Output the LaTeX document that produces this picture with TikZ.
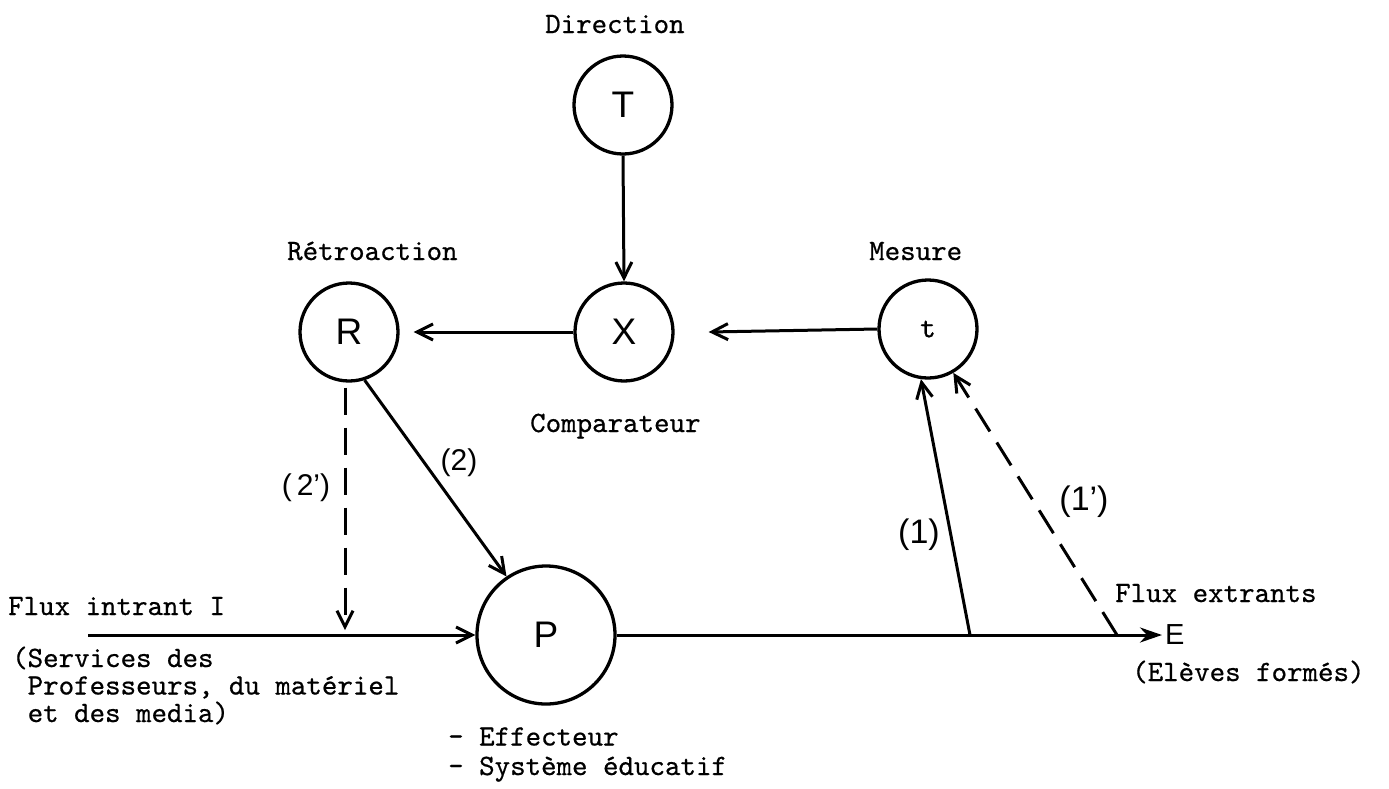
\documentclass[tikz,border=0pt]{standalone}
\usepackage{fontspec}
\setmonofont{lmmono10-regular}[Extension=.otf,FakeBold=0.6]
\newfontfamily\labfont{Liberation Sans}
\usetikzlibrary{arrows.meta}
\begin{document}
\begin{tikzpicture}[x=1pt,y=-1pt,
  circ/.style={circle,draw,line width=3.3pt,inner sep=0pt,minimum size=98pt,
    font=\labfont\fontsize{37}{37}\selectfont},
  ttx/.style={font=\fontsize{29.5}{28}\selectfont\ttfamily,inner sep=0pt,anchor=base west,
    text height=19pt,text depth=5pt},
  ttm/.style={font=\fontsize{29.5}{27.5}\selectfont\ttfamily,inner sep=0pt,anchor=base west,
    align=left},
  lab/.style={font=\labfont\fontsize{30}{30}\selectfont,inner sep=0pt},
  biglab/.style={font=\labfont\fontsize{34}{34}\selectfont,inner sep=0pt},
  barb/.tip={Straight Barb[length=16pt,width=16pt,line width=3pt]},
  conn/.style={line width=3pt,-barb},
  dconn/.style={line width=3pt,-barb,dash pattern=on 27pt off 13pt},
]
\useasboundingbox (0,0) rectangle (1389,788);

% circles
\node[circ] (T) at (623,105) {T};
\node[circ] (X) at (624,332) {X};
\node[circ] (R) at (349,332) {R};
\node[circ,font=\fontsize{30}{30}\selectfont\ttfamily] (t) at (928,329) {t};
\node[circ,minimum size=138pt] (P) at (546,635) {P};
\node[font=\labfont\fontsize{29}{29}\selectfont,inner sep=0pt,anchor=west] (E) at (1165,635) {E};

% texts
\node[ttx] (dir) at (545,33) {Direction};
\node[ttx] (retro) at (287,260) {Rétroaction};
\node[ttx] (mes) at (869,260) {Mesure};
\node[ttx] (comp) at (530,432) {Comparateur};
\node[ttx] (fin) at (8,615) {Flux intrant I};
\node[ttm] (serv) at (12,722) {(Services des\\\hphantom{(}Professeurs, du matériel\\\hphantom{(}et des media)};
\node[ttx] (fex) at (1115,602) {Flux extrants};
\node[ttx] (elv) at (1132,681) {(Elèves formés)};
\node[ttm] (eff) at (448,775) {- Effecteur\\[2pt]- Système éducatif};

% labels
\node[lab] (l2) at (459,463) {(2)};
\node[lab] (l2p) at (306,488) {(\,2’)};
\node[biglab] (l1) at (919,535) {(1)};
\node[biglab] (l1p) at (1084,502) {(1’)};

% coordinates
\coordinate (in) at (88,635);
\coordinate (d2) at (345,630);
\coordinate (j1) at (970,635);
\coordinate (j2) at (1117,635);

% connectors
\draw[conn] (T.south) -- (X.north);
\draw[conn] (X.west) -- ([xshift=14pt]R.east);
\draw[conn] (t.west) -- ([xshift=34pt]X.east);
\draw[dconn] ([yshift=-5pt]R.south -| d2) -- (d2);
\draw[conn] (R.-72) -- (P.124);
\draw[conn] (in) -- (P.west);
\draw[line width=3pt,-{Stealth[length=22pt,width=15pt,inset=7pt]}] (P.east) -- ([xshift=-3pt]E.west);
\draw[conn] (j1) -- (t.-98);
\draw[dconn] (j2) -- (t.-60);
\end{tikzpicture}
\end{document}
